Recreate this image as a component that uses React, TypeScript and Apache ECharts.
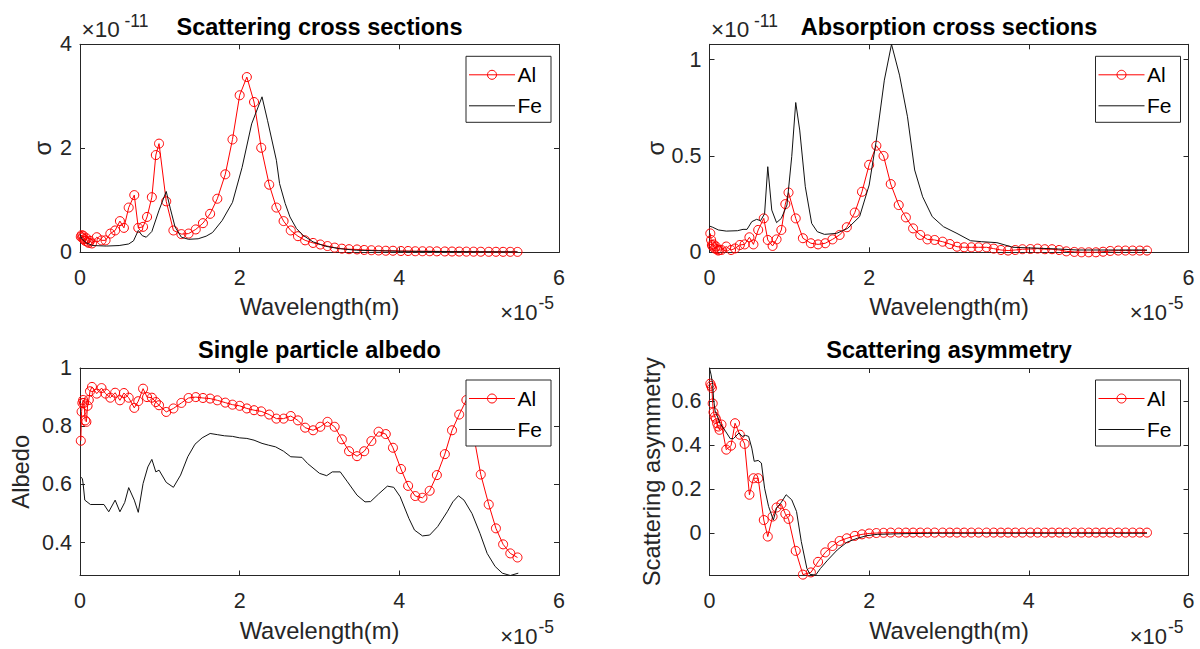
import React, { useEffect, useRef } from 'react';
import * as echarts from 'echarts';

// ---------- data (x in units of 1e-5 m) ----------
const wavelengthAl = [
  0.01, 0.02, 0.03, 0.04, 0.05, 0.065, 0.08, 0.095, 0.11, 0.125,
  0.15, 0.21, 0.27, 0.32, 0.38, 0.44, 0.5, 0.55, 0.61, 0.68, 0.73, 0.79, 0.84, 0.9, 0.95, 0.99,
  1.08, 1.17, 1.27, 1.36, 1.45, 1.54, 1.63, 1.72, 1.82, 1.91,
  2.0, 2.09, 2.18, 2.27, 2.37, 2.46, 2.55, 2.64, 2.73, 2.82,
  2.92, 3.01, 3.1, 3.19, 3.28, 3.37, 3.47, 3.56, 3.65, 3.74,
  3.83, 3.92, 4.02, 4.11, 4.2, 4.29, 4.38, 4.47, 4.57, 4.66,
  4.75, 4.84, 4.93, 5.02, 5.12, 5.21, 5.3, 5.39, 5.48,
];

// scattering cross section, units of 1e-11
const alScattering = [
  0.3, 0.33, 0.28, 0.32, 0.25, 0.22, 0.27, 0.2, 0.18, 0.22,
  0.17, 0.29, 0.23, 0.23, 0.36, 0.42, 0.6, 0.47, 0.86, 1.1, 0.47, 0.49, 0.68, 1.06, 1.87, 2.09,
  0.98, 0.42, 0.35, 0.36, 0.44, 0.56, 0.74, 1.03, 1.5, 2.17,
  3.02, 3.37, 2.89, 2.01, 1.3, 0.86, 0.6, 0.42, 0.31, 0.23,
  0.18, 0.15, 0.12, 0.09, 0.07, 0.06, 0.055, 0.045, 0.04, 0.035,
  0.03, 0.03, 0.025, 0.025, 0.02, 0.02, 0.02, 0.018, 0.016, 0.015,
  0.014, 0.013, 0.012, 0.011, 0.01, 0.01, 0.009, 0.009, 0.008,
];

// absorption cross section, units of 1e-11
const alAbsorption = [
  0.098, 0.064, 0.038, 0.03, 0.041, 0.02, 0.03, 0.016, 0.009, 0.012,
  0.012, 0.03, 0.012, 0.02, 0.038, 0.041, 0.078, 0.041, 0.116, 0.176, 0.064, 0.033, 0.067, 0.116, 0.25, 0.31,
  0.176, 0.073, 0.047, 0.041, 0.047, 0.067, 0.09, 0.13, 0.206, 0.314,
  0.454, 0.553, 0.5, 0.354, 0.245, 0.181, 0.124, 0.09, 0.067, 0.064,
  0.055, 0.043, 0.029, 0.026, 0.026, 0.026, 0.026, 0.019, 0.012, 0.009,
  0.012, 0.016, 0.017, 0.019, 0.016, 0.016, 0.012, 0.005, 0.002, 0.0,
  0.0, 0.0, 0.003, 0.007, 0.009, 0.009, 0.009, 0.009, 0.009,
];

const alAlbedo = [
  0.75, 0.85, 0.88, 0.89, 0.88, 0.82, 0.815, 0.87, 0.89, 0.92,
  0.935, 0.912, 0.931, 0.912, 0.898, 0.915, 0.889, 0.914, 0.898, 0.863, 0.886, 0.929, 0.9, 0.898, 0.883, 0.872,
  0.849, 0.861, 0.88, 0.897, 0.9, 0.897, 0.895, 0.889, 0.881, 0.874,
  0.87, 0.861, 0.855, 0.851, 0.84, 0.826, 0.826, 0.835, 0.82, 0.795,
  0.786, 0.798, 0.815, 0.798, 0.755, 0.714, 0.697, 0.714, 0.749, 0.781,
  0.773, 0.726, 0.653, 0.595, 0.56, 0.554, 0.578, 0.632, 0.704, 0.786,
  0.84, 0.89, 0.77, 0.634, 0.531, 0.449, 0.394, 0.363, 0.349,
];

const alAsymmetry = [
  0.68, 0.67, 0.66, 0.59, 0.55, 0.53, 0.52, 0.5, 0.485, 0.47,
  0.494, 0.38, 0.398, 0.5, 0.448, 0.406, 0.175, 0.25, 0.25, 0.06, -0.015, 0.076, 0.117, 0.132, 0.088, 0.065,
  -0.08, -0.188, -0.178, -0.13, -0.087, -0.058, -0.035, -0.023, -0.012, -0.005,
  -0.001, 0.001, 0.002, 0.003, 0.003, 0.003, 0.003, 0.003, 0.003, 0.003,
  0.003, 0.003, 0.003, 0.003, 0.003, 0.003, 0.003, 0.003, 0.003, 0.003,
  0.003, 0.003, 0.003, 0.003, 0.003, 0.003, 0.003, 0.003, 0.003, 0.003,
  0.003, 0.003, 0.003, 0.003, 0.003, 0.003, 0.003, 0.003, 0.003,
];

const feScatX = [0, 0.03, 0.08, 0.16, 0.33, 0.49, 0.61, 0.67, 0.73, 0.78, 0.83, 0.9, 0.99, 1.08, 1.13, 1.19, 1.27, 1.36, 1.48, 1.58, 1.66, 1.78, 1.91, 2.03, 2.15, 2.28, 2.35, 2.46, 2.5, 2.57, 2.63, 2.71, 2.79, 2.92, 3.08, 3.25, 3.46, 3.72, 4.0, 4.5, 5.0, 5.48];
const feScatY = [0.33, 0.25, 0.18, 0.13, 0.12, 0.13, 0.16, 0.22, 0.42, 0.32, 0.29, 0.4, 0.81, 1.17, 0.85, 0.49, 0.29, 0.25, 0.26, 0.31, 0.38, 0.61, 0.96, 1.63, 2.47, 2.99, 2.53, 1.77, 1.32, 0.94, 0.68, 0.46, 0.33, 0.2, 0.115, 0.07, 0.04, 0.03, 0.02, 0.015, 0.01, 0.008];

const feAbsX = [0, 0.04, 0.11, 0.21, 0.35, 0.42, 0.47, 0.53, 0.59, 0.64, 0.69, 0.73, 0.78, 0.84, 0.9, 0.97, 1.03, 1.08, 1.13, 1.2, 1.28, 1.35, 1.44, 1.59, 1.73, 1.88, 2.0, 2.09, 2.19, 2.28, 2.38, 2.48, 2.57, 2.67, 2.79, 2.93, 3.1, 3.27, 3.41, 3.6, 3.8, 4.13, 4.37, 4.61, 5.0, 5.48];
const feAbsY = [0.136, 0.13, 0.116, 0.11, 0.112, 0.119, 0.119, 0.159, 0.171, 0.164, 0.2, 0.444, 0.219, 0.154, 0.176, 0.245, 0.496, 0.777, 0.634, 0.34, 0.15, 0.107, 0.093, 0.098, 0.124, 0.185, 0.349, 0.582, 0.893, 1.079, 0.919, 0.703, 0.427, 0.288, 0.185, 0.133, 0.098, 0.06, 0.055, 0.05, 0.026, 0.021, 0.017, 0.012, 0.012, 0.012];

const feAlbX = [0.01, 0.03, 0.04, 0.06, 0.13, 0.3, 0.36, 0.44, 0.5, 0.56, 0.61, 0.68, 0.73, 0.79, 0.85, 0.9, 0.95, 0.99, 1.08, 1.17, 1.26, 1.35, 1.44, 1.53, 1.63, 1.72, 1.81, 1.91, 2.0, 2.09, 2.18, 2.28, 2.36, 2.45, 2.55, 2.64, 2.78, 2.85, 3.0, 3.09, 3.16, 3.26, 3.35, 3.47, 3.57, 3.64, 3.74, 3.85, 3.93, 4.01, 4.12, 4.19, 4.29, 4.38, 4.48, 4.6, 4.67, 4.74, 4.81, 4.91, 5.01, 5.1, 5.2, 5.29, 5.39, 5.49];
const feAlbY = [0.625, 0.62, 0.6, 0.546, 0.531, 0.531, 0.506, 0.546, 0.506, 0.538, 0.589, 0.546, 0.504, 0.603, 0.66, 0.686, 0.643, 0.649, 0.607, 0.59, 0.632, 0.695, 0.738, 0.76, 0.775, 0.771, 0.767, 0.765, 0.76, 0.758, 0.752, 0.741, 0.735, 0.729, 0.714, 0.695, 0.693, 0.672, 0.638, 0.63, 0.643, 0.643, 0.609, 0.563, 0.54, 0.541, 0.567, 0.594, 0.59, 0.558, 0.483, 0.443, 0.423, 0.426, 0.455, 0.506, 0.54, 0.561, 0.546, 0.5, 0.432, 0.363, 0.318, 0.295, 0.287, 0.295];

const feAsymX = [0, 0.02, 0.04, 0.05, 0.07, 0.09, 0.13, 0.2, 0.26, 0.3, 0.37, 0.41, 0.45, 0.49, 0.53, 0.56, 0.61, 0.65, 0.69, 0.74, 0.8, 0.84, 0.9, 0.96, 1.03, 1.09, 1.15, 1.22, 1.26, 1.33, 1.39, 1.48, 1.6, 1.72, 1.85, 1.97, 2.1, 2.4, 2.8, 3.5, 4.5, 5.48];
const feAsymY = [0.751, 0.72, 0.676, 0.615, 0.555, 0.54, 0.5, 0.464, 0.43, 0.43, 0.456, 0.44, 0.445, 0.44, 0.387, 0.327, 0.331, 0.319, 0.205, 0.122, 0.06, 0.114, 0.141, 0.175, 0.152, 0.099, -0.038, -0.16, -0.187, -0.19, -0.16, -0.122, -0.076, -0.041, -0.023, -0.011, -0.005, -0.002, 0, 0, 0, 0];

const xTicks = [0, 2, 4, 6];
const scatTicks = [0, 2, 4];
const absTicks = [0, 0.5, 1];
const albTicks = [0.4, 0.6, 0.8, 1];
const asymTicks = [0, 0.2, 0.4, 0.6];

const titles = ['Scattering cross sections', 'Absorption cross sections', 'Single particle albedo', 'Scattering asymmetry'];
const yNames = ['σ', 'σ', 'Albedo', 'Scattering asymmetry'];
const xName = 'Wavelength(m)';
const legendNames = ['Al', 'Fe'];

// ---------- styling / layout ----------
const FONT = "'Liberation Sans', Arial, Helvetica, sans-serif";
const AXC = '#262626';
const RED = '#ff0000';
const BLACK = '#111111';

const panels = [
  { left: 80, top: 44.3, w: 479, h: 208, ymin: 0, ymax: 4, ticks: scatTicks, gap: 25, al: alScattering, fx: feScatX, fy: feScatY, yExp: true },
  { left: 709.5, top: 44.3, w: 479, h: 208, ymin: 0, ymax: 1.079, ticks: absTicks, gap: 42, al: alAbsorption, fx: feAbsX, fy: feAbsY, yExp: true },
  { left: 80, top: 368, w: 479, h: 207.5, ymin: 0.287, ymax: 1, ticks: albTicks, gap: 47, al: alAlbedo, fx: feAlbX, fy: feAlbY, yExp: false },
  { left: 709.5, top: 368, w: 479, h: 207.5, ymin: -0.192, ymax: 0.751, ticks: asymTicks, gap: 46, al: alAsymmetry, fx: feAsymX, fy: feAsymY, yExp: false },
];

const pairs = (xs: number[], ys: number[]) => xs.map((x, i) => [x, ys[i]]);

function buildOption() {
  const grid: any[] = [];
  const xAxis: any[] = [];
  const yAxis: any[] = [];
  const series: any[] = [];
  const graphic: any[] = [];

  panels.forEach((p, i) => {
    grid.push({ left: p.left, top: p.top, width: p.w, height: p.h, containLabel: false, show: false });
    const tickStyle = { lineStyle: { color: AXC, width: 1 } };
    ['bottom', 'top'].forEach((pos) => {
      const main = pos === 'bottom';
      xAxis.push({
        type: 'value', gridIndex: i, position: pos, min: 0, max: 6,
        axisLine: { show: true, onZero: false, lineStyle: { color: AXC, width: 1 } },
        axisTick: { show: true, inside: true, length: 5, customValues: xTicks, ...tickStyle },
        axisLabel: { show: main, customValues: xTicks, margin: 14.5, fontSize: 21.5, color: AXC, fontFamily: FONT },
        splitLine: { show: false },
        name: main ? xName : '', nameLocation: 'middle', nameGap: 43,
        nameTextStyle: { fontSize: 23.7, color: AXC, fontFamily: FONT },
      });
    });
    ['left', 'right'].forEach((pos) => {
      const main = pos === 'left';
      yAxis.push({
        type: 'value', gridIndex: i, position: pos, min: p.ymin, max: p.ymax,
        axisLine: { show: true, onZero: false, lineStyle: { color: AXC, width: 1 } },
        axisTick: { show: true, inside: true, length: 5, customValues: p.ticks, ...tickStyle },
        axisLabel: { show: main, customValues: p.ticks, margin: 8, fontSize: 21.5, color: AXC, fontFamily: FONT },
        splitLine: { show: false },
        name: main ? yNames[i] : '', nameLocation: 'middle', nameGap: p.gap, nameRotate: 90,
        nameTextStyle: { fontSize: 23.7, color: AXC, fontFamily: FONT },
      });
    });

    series.push({
      type: 'line', name: legendNames[0], xAxisIndex: 2 * i, yAxisIndex: 2 * i,
      data: pairs(wavelengthAl, p.al), symbol: 'circle', symbolSize: 9, showSymbol: true,
      lineStyle: { color: RED, width: 1 },
      itemStyle: { color: 'rgba(255,255,255,0)', borderColor: RED, borderWidth: 1 },
      emphasis: { disabled: true }, z: 2,
    });
    series.push({
      type: 'line', name: legendNames[1], xAxisIndex: 2 * i, yAxisIndex: 2 * i,
      data: pairs(p.fx, p.fy), symbol: 'none', showSymbol: false,
      lineStyle: { color: BLACK, width: 1 },
      emphasis: { disabled: true }, z: 3,
    });

    const R = p.left + p.w;
    const T = p.top;
    const B = p.top + p.h;
    const cx = p.left + p.w / 2;

    // title
    graphic.push({
      type: 'text', x: cx, y: T - 17.6, z: 100,
      style: { text: titles[i], fontSize: 23.5, fontWeight: 'bold', fontFamily: FONT, fill: '#000', align: 'center', verticalAlign: 'middle' },
    });
    // x exponent
    graphic.push({
      type: 'text', x: R - 21.5, y: B + 60.5, z: 100,
      style: { text: '×10', fontSize: 22, fontFamily: FONT, fill: AXC, align: 'right', verticalAlign: 'middle' },
    });
    graphic.push({
      type: 'text', x: R - 20.5, y: B + 51, z: 100,
      style: { text: '-5', fontSize: 17.5, fontFamily: FONT, fill: AXC, align: 'left', verticalAlign: 'middle' },
    });
    // y exponent
    if (p.yExp) {
      graphic.push({
        type: 'text', x: p.left + 1.5, y: T - 14.6, z: 100,
        style: { text: '×10', fontSize: 22.5, fontFamily: FONT, fill: AXC, align: 'left', verticalAlign: 'middle' },
      });
      graphic.push({
        type: 'text', x: p.left + 44.5, y: T - 23.5, z: 100,
        style: { text: '-11', fontSize: 17.5, fontFamily: FONT, fill: AXC, align: 'left', verticalAlign: 'middle' },
      });
    }
    // legend
    const lx = R - 93;
    const ly = T + 12;
    graphic.push({
      type: 'rect', z: 100, shape: { x: lx, y: ly, width: 85, height: 66 },
      style: { fill: '#ffffff', stroke: AXC, lineWidth: 1 },
    });
    const r1 = ly + 18.5;
    const r2 = ly + 49.5;
    graphic.push({ type: 'line', z: 101, shape: { x1: lx + 3, y1: r1, x2: lx + 49, y2: r1 }, style: { stroke: RED, lineWidth: 1 } });
    graphic.push({ type: 'circle', z: 102, shape: { cx: lx + 26, cy: r1, r: 4.5 }, style: { fill: 'none', stroke: RED, lineWidth: 1 } });
    graphic.push({ type: 'line', z: 101, shape: { x1: lx + 3, y1: r2, x2: lx + 49, y2: r2 }, style: { stroke: BLACK, lineWidth: 1 } });
    graphic.push({
      type: 'text', x: lx + 51.5, y: r1, z: 102,
      style: { text: legendNames[0], fontSize: 21, fontFamily: FONT, fill: '#000', align: 'left', verticalAlign: 'middle' },
    });
    graphic.push({
      type: 'text', x: lx + 51.5, y: r2, z: 102,
      style: { text: legendNames[1], fontSize: 21, fontFamily: FONT, fill: '#000', align: 'left', verticalAlign: 'middle' },
    });
  });

  return {
    animation: false,
    backgroundColor: '#ffffff',
    grid, xAxis, yAxis, series, graphic,
  };
}

export default function App() {
  const ref = useRef<HTMLDivElement>(null);
  useEffect(() => {
    if (!ref.current) return;
    const chart = echarts.init(ref.current, undefined, { renderer: 'svg' });
    chart.setOption(buildOption() as any);
    return () => chart.dispose();
  }, []);
  return (
    <div
      ref={ref}
      style={{ position: 'fixed', left: 0, top: 0, width: 1200, height: 649, background: '#fff' }}
    />
  );
}
